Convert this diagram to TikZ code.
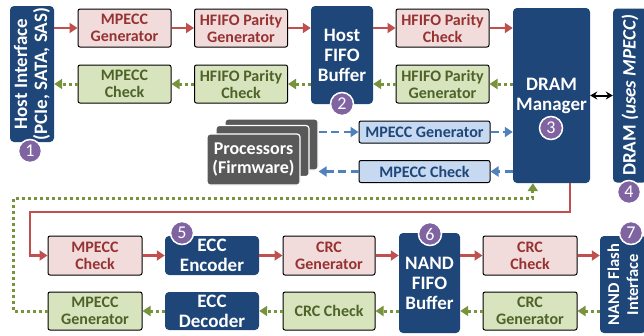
\documentclass[tikz,border=0pt]{standalone}
\usepackage{fontspec}
\setmainfont{Carlito}
\usetikzlibrary{arrows.meta,positioning}

\definecolor{navy}{RGB}{30,70,120}
\definecolor{redfill}{RGB}{242,220,219}
\definecolor{redtext}{RGB}{150,50,50}
\definecolor{redline}{RGB}{192,80,77}
\definecolor{greenfill}{RGB}{215,228,189}
\definecolor{greentext}{RGB}{79,98,40}
\definecolor{greenline}{RGB}{119,147,60}
\definecolor{lightfill}{RGB}{198,217,241}
\definecolor{blueline}{RGB}{79,129,189}
\definecolor{cpugray}{RGB}{89,89,89}
\definecolor{numpurple}{RGB}{128,100,162}

\begin{document}
\begin{tikzpicture}[x=1pt,y=-1pt,
                    every node/.style={font=\fontsize{16}{17}\selectfont\bfseries,align=center,inner sep=0pt},
                    box/.style={draw=black,line width=1pt,rounded corners=2pt,minimum width=93pt,minimum height=38pt},
                    redbox/.style={box,fill=redfill,text=redtext},
                    greenbox/.style={box,fill=greenfill,text=greentext},
                    lightbox/.style={box,fill=lightfill,text=navy,minimum width=131pt,minimum height=22pt},
                    darkbox/.style={fill=navy,text=white,rounded corners=4pt,font=\fontsize{19}{20}\selectfont\bfseries},
                    cpubox/.style={fill=cpugray,draw=white,line width=1.2pt,rounded corners=3pt,
                                   minimum width=93pt,minimum height=51pt,text=white,
                                   font=\fontsize{18}{19}\selectfont\bfseries},
                    num/.style={circle,fill=numpurple,draw=white,line width=1.5pt,text=white,
                                minimum size=23pt,font=\fontsize{18}{18}\selectfont},
                    redflow/.style={color=redline,line width=2.5pt,-{Triangle[length=8pt,width=10pt]}},
                    greenflow/.style={color=greenline,line width=3pt,dash pattern=on 3pt off 3pt,
                                      -{Triangle[length=8pt,width=10pt]}},
                    blueflow/.style={color=blueline,line width=2.5pt,dash pattern=on 8pt off 4.5pt,
                                     -{Triangle[length=8pt,width=10pt]}}]
                \useasboundingbox (0,0) rectangle (644,335);

                % host side
                \node[darkbox,rotate=90,minimum width=136pt,minimum height=44pt] (hostif) at (32,74) {Host Interface\\(PCIe, SATA, SAS)};
                \node[redbox] (mpgen) at (124.5,28) {MPECC\\Generator};
                \node[redbox] (hfgen) at (241,28) {HFIFO Parity\\Generator};
                \node[darkbox,minimum width=62pt,minimum height=98pt] (hfifo) at (342,55) {Host\\FIFO\\Buffer};
                \node[redbox] (hfchk) at (442.5,28) {HFIFO Parity\\Check};
                \node[greenbox] (mpchk) at (124.5,84) {MPECC\\Check};
                \node[greenbox] (hfchkg) at (241,84) {HFIFO Parity\\Check};
                \node[greenbox] (hfgeng) at (442.5,84) {HFIFO Parity\\Generator};

                % dram and processors
                \node[darkbox,minimum width=77pt,minimum height=175pt] (dramm) at (551.5,95.5) {DRAM\\Manager};
                \node[darkbox,rotate=90,minimum width=174pt,minimum height=34pt] (dram) at (630,95.5) {DRAM \textit{(uses MPECC)}};
                \node[cpubox] (cpu3) at (271.5,144.5) {};
                \node[cpubox] (cpu2) at (262.5,151) {};
                \node[cpubox] (cpu1) at (253.5,159.5) {Processors\\(Firmware)};
                \node[lightbox] (mpgenb) at (424.5,132) {MPECC Generator};
                \node[lightbox] (mpchkb) at (424.5,171.5) {MPECC Check};

                % nand side
                \node[redbox,minimum width=94pt,minimum height=39pt] (mpchkn) at (95,255.5) {MPECC\\Check};
                \node[darkbox,minimum width=94pt,minimum height=39pt] (eccenc) at (212,255.5) {ECC\\Encoder};
                \node[redbox,minimum width=92pt,minimum height=39pt] (crcgen) at (329,255.5) {CRC\\Generator};
                \node[darkbox,minimum width=61pt,minimum height=100pt] (nfifo) at (429.5,283) {NAND\\FIFO\\Buffer};
                \node[redbox,minimum width=94pt,minimum height=39pt] (crcchk) at (530,255.5) {CRC\\Check};
                \node[darkbox,rotate=90,minimum width=97pt,minimum height=46pt,
                      font=\fontsize{16.5}{19}\selectfont\bfseries] (nandif) at (623,284.5) {NAND Flash\\Interface};
                \node[greenbox,minimum width=94pt] (mpgenn) at (95,311) {MPECC\\Generator};
                \node[darkbox,minimum width=94pt,minimum height=38pt] (eccdec) at (212,311) {ECC\\Decoder};
                \node[greenbox,minimum width=92pt] (crcchkg) at (329,311) {CRC Check};
                \node[greenbox,minimum width=94pt] (crcgeng) at (530,311) {CRC\\Generator};

                \coordinate (greencorner) at (13,198);
                \coordinate (redcorner) at (30,212);

                % write path
                \path[redflow]
                (mpgen -| hostif.south) edge (mpgen)
                (mpgen) edge (hfgen)
                (hfgen) edge (hfgen -| hfifo.west)
                (hfchk -| hfifo.east) edge (hfchk)
                (hfchk) edge (hfchk -| dramm.west)
                (mpchkn) edge (eccenc)
                (eccenc) edge (crcgen)
                (crcgen) edge (crcgen -| nfifo.west)
                (crcchk -| nfifo.east) edge (crcchk)
                (crcchk) edge (crcchk -| nandif.north);
                \draw[redflow] ([xshift=-20pt]dramm.south east) |- (redcorner) |- (mpchkn.west);

                % read path
                \path[greenflow]
                (hfgeng -| dramm.west) edge (hfgeng)
                (hfgeng) edge (hfgeng -| hfifo.east)
                (hfchkg -| hfifo.west) edge (hfchkg)
                (hfchkg) edge (mpchk)
                (mpchk) edge (mpchk -| hostif.south)
                (crcgeng -| nandif.north) edge (crcgeng)
                (crcgeng) edge (crcgeng -| nfifo.east)
                (crcchkg -| nfifo.west) edge (crcchkg)
                (crcchkg) edge (eccdec)
                (eccdec) edge (mpgenn);
                \draw[greenflow] (mpgenn.west) -| (greencorner) -| ([xshift=20pt]dramm.south west);

                % firmware path
                \path[blueflow]
                (mpgenb -| cpu3.east) edge (mpgenb)
                (mpgenb) edge (mpgenb -| dramm.west)
                (mpchkb -| dramm.west) edge (mpchkb)
                (mpchkb) edge (mpchkb -| cpu3.east);
                \draw[line width=2pt,{Stealth[length=7pt,width=8pt]}-{Stealth[length=7pt,width=8pt]}] (dramm) -- (dram);

                \node[num] (n1) at (30,151) {1};
                \node[num] (n2) at (342,104) {2};
                \node[num] (n3) at (551,128) {3};
                \node[num] (n4) at (629,192) {4};
                \node[num] (n5) at (182,233) {5};
                \node[num] (n6) at (430,234) {6};
                \node[num] (n7) at (631,233) {7};
\end{tikzpicture}
\end{document}
